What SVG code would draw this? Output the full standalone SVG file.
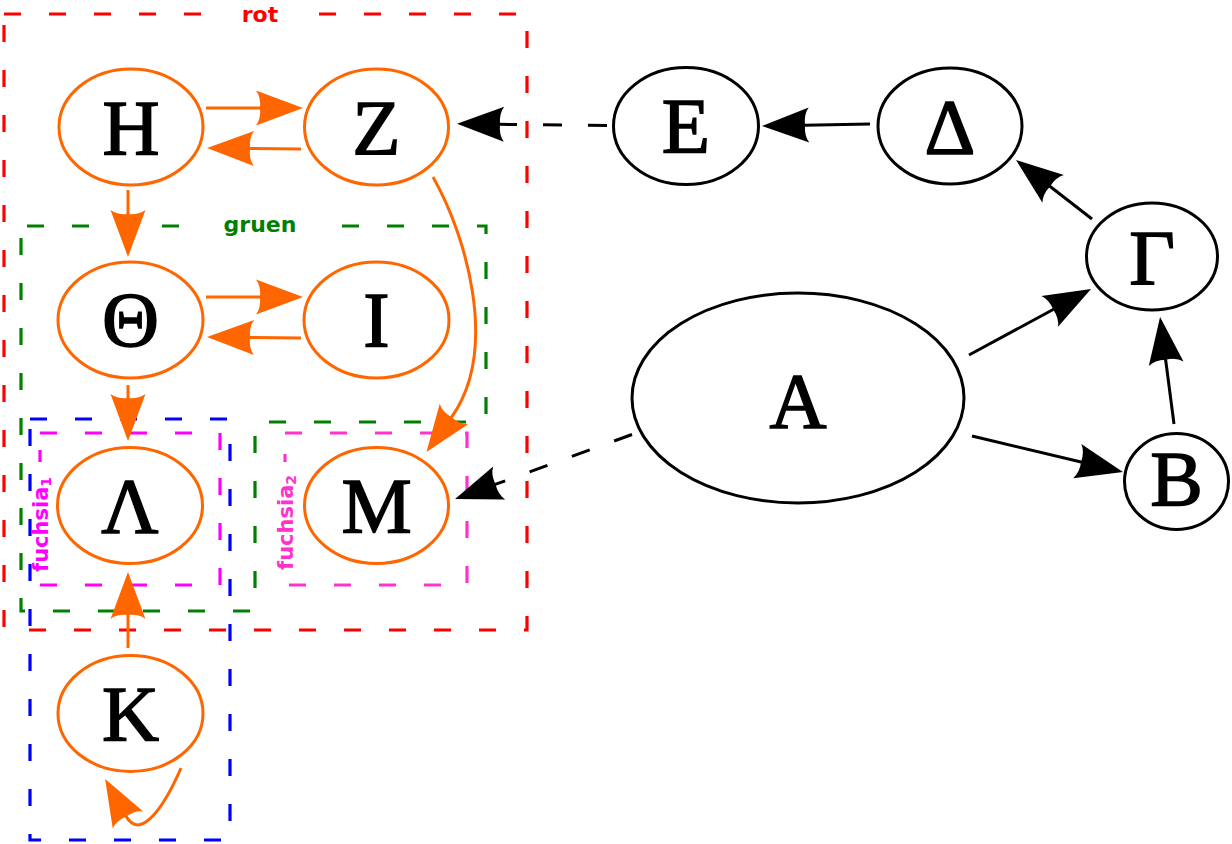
<svg xmlns="http://www.w3.org/2000/svg" width="1232" height="844" viewBox="0 0 1232 844">
<style>
.cl{fill:none;stroke-width:3.2;stroke-dasharray:17 28}
.lbg{fill:#fff}
.cll{font-family:"DejaVu Sans",sans-serif;font-weight:bold;font-size:22px;text-anchor:middle}
.fl{font-family:"DejaVu Sans",sans-serif;font-weight:bold;font-size:21px}
.no ellipse{fill:#fff;stroke:#FF6600;stroke-width:3}
.nb ellipse{fill:#fff;stroke:#000;stroke-width:3}
.nt{font-family:"Liberation Serif","DejaVu Serif",serif;font-weight:normal;font-size:79px;text-anchor:middle;fill:#000;stroke:#000;stroke-width:1.5}
.eo{fill:none;stroke:#FF6600;stroke-width:3}
.eb{fill:none;stroke:#000;stroke-width:3}
.dash{stroke-dasharray:19 26}
</style>
<defs>
<marker id="ao" markerUnits="userSpaceOnUse" markerWidth="60" markerHeight="60" viewBox="-10 -30 60 60" refX="0" refY="0" orient="auto" overflow="visible">
<path d="M42,0 L-5,-17.5 Q0,-11 -1,0 Q0,11 -5,17.5 Z" fill="#FF6600"/>
</marker>
<marker id="ab" markerUnits="userSpaceOnUse" markerWidth="60" markerHeight="60" viewBox="-10 -30 60 60" refX="0" refY="0" orient="auto" overflow="visible">
<path d="M42,0 L-5,-17.5 Q0,-11 -1,0 Q0,11 -5,17.5 Z" fill="#000"/>
</marker>
</defs>
<rect width="1232" height="844" fill="#fff"/>

<g id="clusters">
<path id="cluster-rot" class="cl" stroke="#FF0000" d="M4,14 H527 V630 H4 Z"/>
<path id="cluster-gruen" class="cl" stroke="#008000" stroke-dashoffset="-6" d="M21,226 H486 V422 H255 V611 H21 Z"/>
<path id="cluster-blau" class="cl" stroke="#0000FF" d="M30,419 H230 V840 H30 Z"/>
<path id="cluster-fuchsia1" class="cl" stroke="#FF00FF" d="M40,433 H220 V585 H40 Z"/>
<path id="cluster-fuchsia2" class="cl" stroke="#FF33CC" d="M285,433 H467 V585 H285 Z"/>
<rect class="lbg" x="221" y="4" width="78" height="22"/>
<rect class="lbg" x="203" y="214" width="115" height="24"/>
<rect class="lbg" x="34" y="462" width="22" height="116"/>
<rect class="lbg" x="279" y="462" width="22" height="116"/>
<text class="cll" x="260" y="22" fill="#FF0000">rot</text>
<text class="cll" x="260" y="232" fill="#008000">gruen</text>
<text class="fl" transform="translate(48,572) rotate(-90)" fill="#FF00FF">fuchsia<tspan font-size="14" dy="3">1</tspan></text>
<text class="fl" transform="translate(293,570) rotate(-90)" fill="#FF33CC">fuchsia<tspan font-size="14" dy="3">2</tspan></text>
</g>

<g id="node-Eta" class="no"><ellipse cx="131" cy="127" rx="72" ry="58"/><text class="nt" x="131" y="154">Η</text></g>
<g id="node-Zeta" class="no"><ellipse cx="376.5" cy="127" rx="72" ry="58"/><text class="nt" x="376.5" y="154">Ζ</text></g>
<g id="node-Theta" class="no"><ellipse cx="130.5" cy="320" rx="72.5" ry="58"/><text class="nt" x="130.5" y="346">Θ</text></g>
<g id="node-Iota" class="no"><ellipse cx="376.5" cy="320" rx="72.5" ry="58"/><text class="nt" x="376.5" y="346">Ι</text></g>
<g id="node-Lambda" class="no"><ellipse cx="130" cy="505.5" rx="72.5" ry="58"/><text class="nt" x="130" y="532">Λ</text></g>
<g id="node-Mu" class="no"><ellipse cx="376.5" cy="505.5" rx="72" ry="58"/><text class="nt" x="376.5" y="532">Μ</text></g>
<g id="node-Kappa" class="no"><ellipse cx="130.5" cy="713.5" rx="72.5" ry="58"/><text class="nt" x="130.5" y="740">Κ</text></g>
<g id="node-Epsilon" class="nb"><ellipse cx="686" cy="126" rx="72.5" ry="58.5"/><text class="nt" x="686" y="152">Ε</text></g>
<g id="node-Delta" class="nb"><ellipse cx="950" cy="126" rx="72" ry="58"/><text class="nt" x="950" y="153">Δ</text></g>
<g id="node-Gamma" class="nb"><ellipse cx="1152" cy="256.5" rx="65.5" ry="53.5"/><text class="nt" x="1152" y="284">Γ</text></g>
<g id="node-Alpha" class="nb"><ellipse cx="798" cy="398" rx="166" ry="105"/><text class="nt" x="798" y="427">Α</text></g>
<g id="node-Beta" class="nb"><ellipse cx="1176.5" cy="481.5" rx="52" ry="48"/><text class="nt" x="1176.5" y="505">Β</text></g>

<g id="connectors">
<path class="eo" marker-end="url(#ao)" d="M206,108 L261,108"/>
<path class="eo" marker-end="url(#ao)" d="M301,149 L249,148.5"/>
<path class="eo" marker-end="url(#ao)" d="M128,190 L128,215"/>
<path class="eo" marker-end="url(#ao)" d="M206,297 L261,297"/>
<path class="eo" marker-end="url(#ao)" d="M301,338 L249,337.5"/>
<path class="eo" marker-end="url(#ao)" d="M128,385 L128,399"/>
<path class="eo" marker-end="url(#ao)" d="M128,648 L128,614"/>
<path class="eo" marker-end="url(#ao)" d="M433,177 C466,235 500,350 451,418"/>
<path class="eo" marker-end="url(#ao)" d="M181,768 C168,798 142,845 125.6,815.6"/>
<path class="eb dash" marker-end="url(#ab)" d="M607,125.5 L499,124.3"/>
<path class="eb" marker-end="url(#ab)" d="M870,124 L804,125.2"/>
<path class="eb" marker-end="url(#ab)" d="M1092,219 L1049.2,185.8"/>
<path class="eb" marker-end="url(#ab)" d="M969,355 L1054.1,309"/>
<path class="eb" marker-end="url(#ab)" d="M1174,424 L1165.5,358.7"/>
<path class="eb" marker-end="url(#ab)" d="M972,436 L1082.1,462.3"/>
<path class="eb dash" marker-end="url(#ab)" d="M632,434.5 L494.5,484.7"/>
</g>
</svg>
